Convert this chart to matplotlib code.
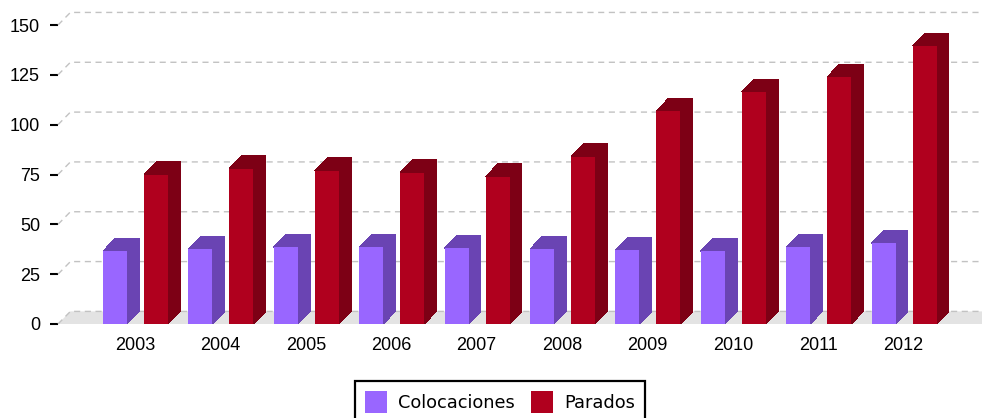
import matplotlib
matplotlib.use("Agg")
import matplotlib.pyplot as plt
from matplotlib.patches import Polygon, Patch

years = ["2003", "2004", "2005", "2006", "2007", "2008", "2009", "2010", "2011", "2012"]
colocaciones = [36.6, 37.6, 38.6, 38.6, 38.1, 37.6, 37.1, 36.6, 38.6, 40.6]
parados = [75, 78, 77, 76, 74, 84, 107, 116.5, 124, 139.5]
y_ticks = [0, 25, 50, 75, 100, 125, 150]

W, H = 982, 418
PX_X = 85.4        # pixels per category
PX_Y = 1.993       # pixels per unit
DX = 12.4 / PX_X   # 3D depth in data units
DY = 12.6 / PX_Y
BAR_W = 24 / PX_X
OFF_C = -20 / PX_X
OFF_P = 21 / PX_X

fig = plt.figure(figsize=(W / 100, H / 100), dpi=100)
ax = fig.add_axes([58 / W, (H - 324) / H, (W - 58) / W, 324 / H])
x0 = (58 - 135) / PX_X
x1 = (982 - 135) / PX_X
ax.set_xlim(x0, x1)
ax.set_ylim(0, 324 / PX_Y)

for s in ax.spines.values():
    s.set_visible(False)

FONT = "Liberation Sans"
ax.set_yticks(y_ticks)
ax.set_yticklabels([str(v) for v in y_ticks], family=FONT, fontsize=13, color="black")
ax.tick_params(axis="y", length=5.8, width=1.5, color="black", pad=7.2)
ax.set_xticks(range(len(years)))
ax.set_xticklabels(years, family=FONT, fontsize=13, color="black")
ax.tick_params(axis="x", length=0, pad=9.5)

# floor
ax.add_patch(Polygon([(x0, 0), (x0 + DX, DY), (x1, DY), (x1, 0)],
                     closed=True, fc="#e3e3e3", ec="none", zorder=1))

# grid lines with their diagonal returns
GRID = dict(color="#c2c2c2", lw=1.0, dashes=(4.4, 3.3), zorder=2, clip_on=False)
for v in y_ticks:
    ax.plot([x0, x0 + DX, x1], [v, v + DY, v + DY], **GRID)


def bar3d(cx, val, front, dark, z):
    l, r = cx - BAR_W / 2, cx + BAR_W / 2
    ax.add_patch(Polygon([(r, 0), (r + DX, DY), (r + DX, val + DY), (r, val)],
                         closed=True, fc=dark, ec="none", zorder=z, antialiased=False))
    ax.add_patch(Polygon([(l, val), (l + DX, val + DY), (r + DX, val + DY), (r, val)],
                         closed=True, fc=dark, ec="none", zorder=z, antialiased=False))
    ax.add_patch(Polygon([(l, 0), (r, 0), (r, val), (l, val)],
                         closed=True, fc=front, ec="none", zorder=z + 0.1, antialiased=False))


PURPLE, PURPLE_D = "#9966ff", "#6a44b3"
RED, RED_D = "#b0001e", "#7d0015"
for i in range(len(years)):
    bar3d(i + OFF_C, colocaciones[i], PURPLE, PURPLE_D, 3 + i * 0.5)
    bar3d(i + OFF_P, parados[i], RED, RED_D, 3.2 + i * 0.5)

fs = 12.8
hl = 22 / (fs * 100 / 72)
handles = [Patch(fc=PURPLE, ec="none", label="Colocaciones"),
           Patch(fc=RED, ec="none", label="Parados")]
leg = fig.legend(handles=handles, loc="upper left",
                 bbox_to_anchor=(355 / W, (H - 381) / H), ncol=2,
                 prop={"family": "DejaVu Sans", "size": fs},
                 handlelength=hl, handleheight=1.57,
                 handletextpad=0.6, columnspacing=0.95,
                 borderpad=0.56, borderaxespad=0, fancybox=False, framealpha=1,
                 edgecolor="black")
leg.get_frame().set_linewidth(1.6)
leg.set_zorder(20)

fig.savefig("out.png", dpi=100)
